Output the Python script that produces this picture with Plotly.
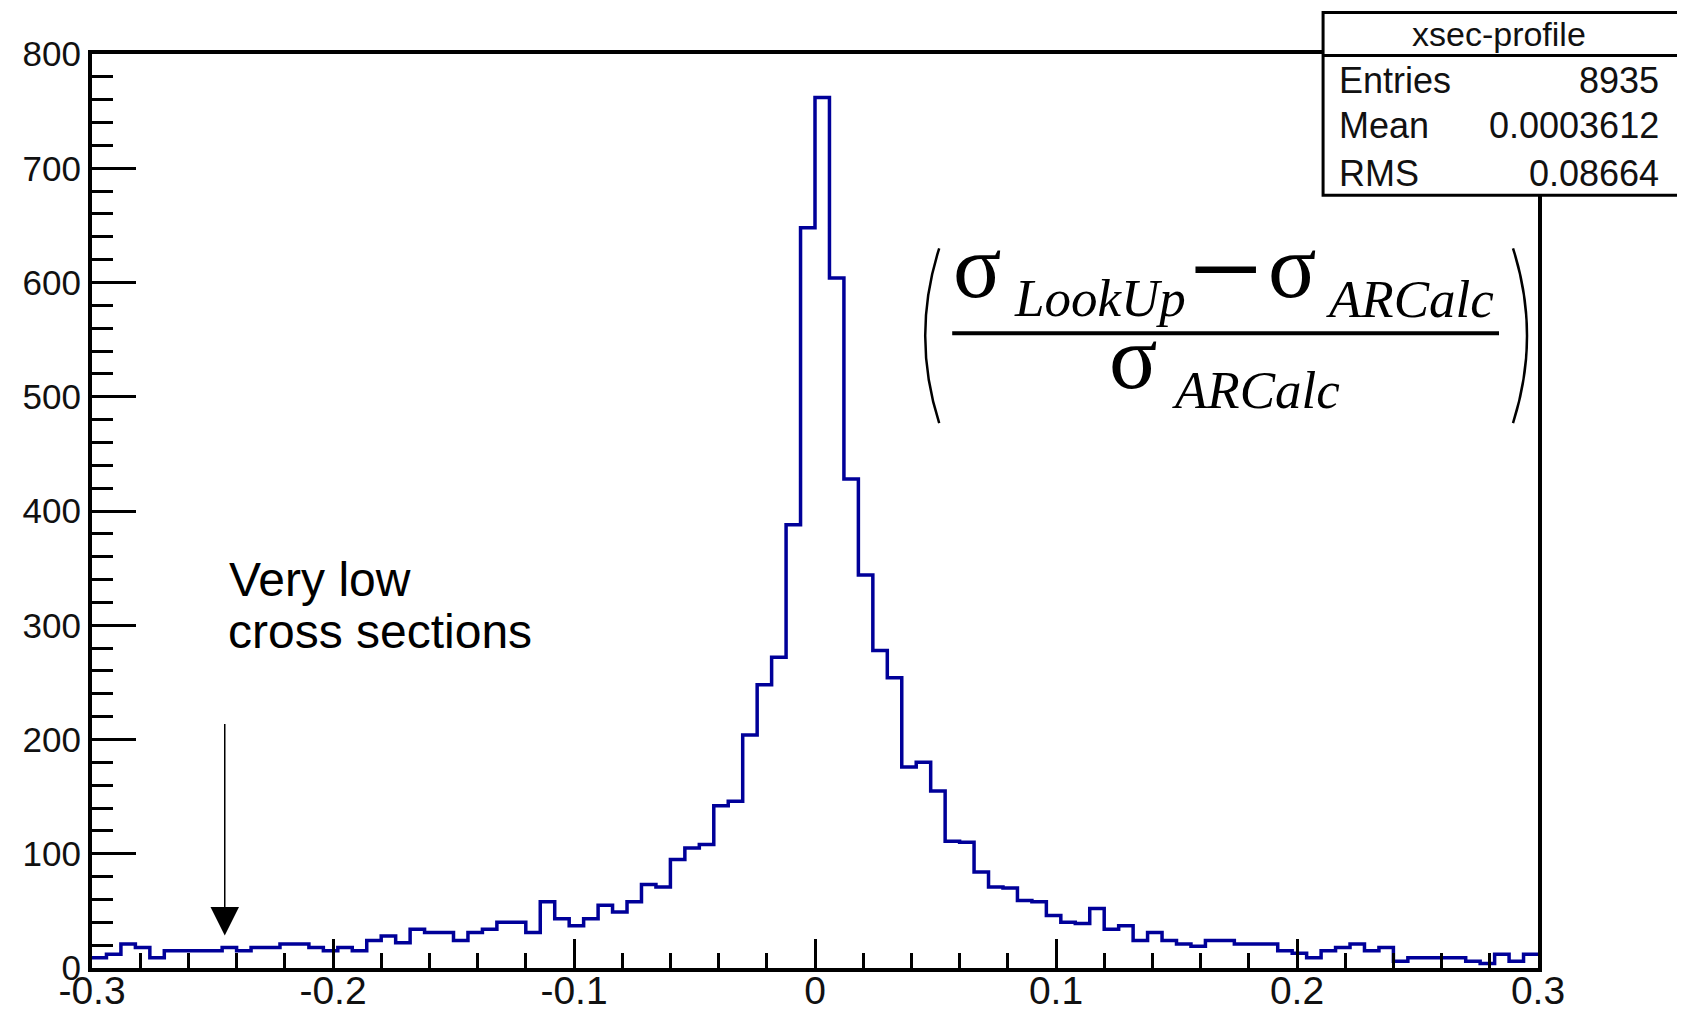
import numpy as np
import plotly.graph_objects as go

# ---------------- data ----------------
counts = [9, 12, 21, 18, 9, 15, 15, 15, 15, 18,
          15, 18, 18, 21, 21, 18, 15, 18, 15, 24,
          28, 22, 34, 31, 31, 24, 31, 34, 40, 40,
          31, 58, 43, 37, 43, 55, 49, 58, 73, 71,
          95, 105, 108, 142, 146, 204, 248, 272, 388, 648,
          762, 604, 428, 344, 278, 254, 176, 180, 155, 111,
          110, 84, 71, 70, 59, 58, 46, 40, 39, 52,
          34, 37, 24, 31, 24, 21, 19, 24, 24, 21,
          21, 21, 15, 13, 9, 15, 18, 21, 15, 18,
          6, 9, 9, 9, 9, 6, 4, 12, 6, 12]
x_min, x_max, n_bins = -0.3, 0.3, 100
x_tick_vals = [-0.3, -0.2, -0.1, 0.0, 0.1, 0.2, 0.3]
x_tick_labels = ["-0.3", "-0.2", "-0.1", "0", "0.1", "0.2", "0.3"]
y_tick_vals = [0, 100, 200, 300, 400, 500, 600, 700, 800]
y_tick_labels = ["0", "100", "200", "300", "400", "500", "600", "700", "800"]
stats_title = "xsec-profile"
stats_names = ["Entries", "Mean", "RMS"]
stats_values = ["8935", "0.0003612", "0.08664"]
note_lines = ["Very low", "cross sections"]

# ---------------- geometry (page pixels) ----------------
OFF = 8                      # default body margin of the html page
W, H = 1685 - 2 * OFF, 1014 - 2 * OFF
LW = 4                       # frame line width (drawn just outside the plot area)
L, R, T, B = 89.5 + LW / 2, 1540.0 - LW / 2, 51.5 + LW / 2, 970.5 - LW / 2


def px(xp):
    return (xp - L) / (R - L)


def py(yp):
    return (B - yp) / (B - T)


edges = np.linspace(x_min, x_max, n_bins + 1)
ys = list(counts) + [counts[-1]]

fig = go.Figure()
fig.add_trace(go.Scatter(
    x=edges, y=ys, mode="lines", line=dict(shape="hv", color="#000099", width=3.5),
    hoverinfo="skip", showlegend=False))

minor_x = [v for v in np.round(np.arange(x_min, x_max + 1e-9, 0.02), 6)
           if not np.any(np.isclose(v, x_tick_vals))]
minor_y = [v for v in range(0, 801, 20) if v % 100 != 0]

fig.update_layout(
    width=W, height=H,
    margin=dict(l=L - OFF, r=W - (R - OFF), t=T - OFF, b=H - (B - OFF), pad=0, autoexpand=False),
    paper_bgcolor="white", plot_bgcolor="white",
    showlegend=False,
    xaxis=dict(range=[x_min, x_max], showgrid=False, zeroline=False,
               showline=True, linewidth=LW, linecolor="black", mirror=True,
               tickmode="array", tickvals=x_tick_vals, ticktext=x_tick_labels,
               ticks="inside", ticklen=29, tickwidth=3, tickcolor="black",
               ticklabelstandoff=-15,
               tickfont=dict(family="Liberation Sans", size=39, color="#111"),
               minor=dict(tickmode="array", tickvals=minor_x, ticks="inside",
                          ticklen=15, tickwidth=2.5, tickcolor="black", showgrid=False)),
    yaxis=dict(range=[0, 800], showgrid=False, zeroline=False,
               showline=True, linewidth=LW, linecolor="black", mirror=True,
               tickmode="array", tickvals=y_tick_vals, ticktext=y_tick_labels,
               ticks="inside", ticklen=44, tickwidth=3, tickcolor="black",
               tickfont=dict(family="Liberation Sans", size=35, color="#111"),
               minor=dict(tickmode="array", tickvals=minor_y, ticks="inside",
                          ticklen=21, tickwidth=3, tickcolor="black", showgrid=False)),
)

shapes = []
annots = []

# ---------- stats box ----------
shapes.append(dict(type="rect", xref="paper", yref="paper", layer="above",
                   x0=px(1323), x1=px(1682), y0=py(195), y1=py(12),
                   line=dict(color="black", width=3), fillcolor="white"))
shapes.append(dict(type="line", xref="paper", yref="paper", layer="above",
                   x0=px(1323), x1=px(1682), y0=py(55), y1=py(55),
                   line=dict(color="black", width=3)))
annots.append(dict(xref="paper", yref="paper", x=px(1499), y=py(33), text=stats_title,
                   xanchor="center", yanchor="middle", showarrow=False, borderpad=0,
                   font=dict(family="Liberation Sans", size=34, color="#111")))
for name, val, base in zip(stats_names, stats_values, [93, 138, 186]):
    mid = base - 0.3465 * 36
    annots.append(dict(xref="paper", yref="paper", x=px(1338), y=py(mid), text=name,
                       xanchor="left", yanchor="middle", showarrow=False, borderpad=0,
                       font=dict(family="Liberation Sans", size=36, color="#111")))
    annots.append(dict(xref="paper", yref="paper", x=px(1660), y=py(mid), text=val,
                       xanchor="right", yanchor="middle", showarrow=False, borderpad=0,
                       font=dict(family="Liberation Sans", size=36, color="#111")))

# ---------- formula ----------
SERIF = "Liberation Serif"


def ftext(txt, left, mid, size, italic=False):
    annots.append(dict(xref="paper", yref="paper", x=px(left), y=py(mid),
                       text=("<i>%s</i>" % txt) if italic else txt,
                       xanchor="left", yanchor="middle", showarrow=False, borderpad=0,
                       font=dict(family=SERIF, size=size, color="black")))


ftext("\u03c3", 952, 297 - 0.3375 * 90, 90)
ftext("LookUp", 1013, 316 - 0.3375 * 53, 53, italic=True)
ftext("\u2212", 1188, 269, 130)
ftext("\u03c3", 1267, 297 - 0.3375 * 90, 90)
ftext("ARCalc", 1325, 317 - 0.3375 * 53, 53, italic=True)
ftext("\u03c3", 1108, 388 - 0.3375 * 90, 90)
ftext("ARCalc", 1171, 408 - 0.3375 * 53, 53, italic=True)
shapes.append(dict(type="line", xref="paper", yref="paper", layer="above",
                   x0=px(952), x1=px(1499), y0=py(333), y1=py(333),
                   line=dict(color="black", width=4)))
# big parentheses
for (xe, xc) in [(939, 911), (1513, 1541)]:
    shapes.append(dict(type="path", xref="paper", yref="paper", layer="above",
                       path="M%f,%f Q%f,%f %f,%f" % (px(xe), py(248), px(xc), py(335.5), px(xe), py(423)),
                       line=dict(color="black", width=2.5)))

# ---------- note with arrow ----------
for txt, base, left in zip(note_lines, [596, 648], [228, 227]):
    mid = base - 0.3465 * 48
    annots.append(dict(xref="paper", yref="paper", x=px(left), y=py(mid), text=txt,
                       xanchor="left", yanchor="middle", showarrow=False, borderpad=0,
                       font=dict(family="Liberation Sans", size=48, color="black")))
annots.append(dict(xref="paper", yref="paper", x=px(224.3), y=py(936), text="",
                   showarrow=True, axref="pixel", ayref="pixel", ax=0, ay=-213,
                   arrowhead=2, arrowsize=3.8, arrowwidth=1.5, arrowcolor="black",
                   standoff=0))

fig.update_layout(shapes=shapes, annotations=annots)
fig.write_html("out.html")
